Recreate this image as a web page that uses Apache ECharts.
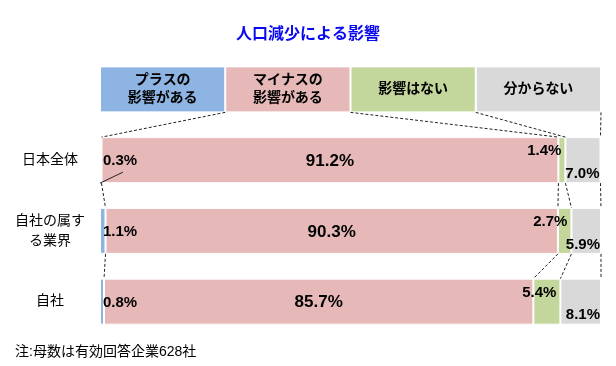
<!DOCTYPE html>
<html>
<head>
<meta charset="utf-8">
<script src="https://cdn.jsdelivr.net/npm/echarts@6/dist/echarts.min.js"></script>
<style>html,body{margin:0;padding:0;background:#fff}#c{width:616px;height:366px}</style>
</head>
<body>
<div id="c"></div>
<script>
const titleText = '人口減少による影響';
const footnote = '注:母数は有効回答企業628社';
const categoryLabels = ['日本全体', '自社の属す\nる業界', '自社'];
const headerLabels = ['プラスの\n影響がある', 'マイナスの\n影響がある', '影響はない', '分からない'];
const headerShares = [25, 25, 25, 25];
const plusVals = [0.3, 1.1, 0.8];
const minusVals = [91.2, 90.3, 85.7];
const noneVals = [1.4, 2.7, 5.4];
const unknownVals = [7.0, 5.9, 8.1];

const colors = ['#8EB4E3', '#E6B9B8', '#C3D69B', '#D9D9D9'];
const FONT = '"Liberation Sans","Noto Sans CJK JP",sans-serif';
const BAR_W = 46;

const seriesVals = [plusVals, minusVals, noneVals, unknownVals];
const rowLabelStyles = [
  { position: [3, '50%'], align: 'left', verticalAlign: 'middle', fontSize: 15, offset: [0, 1] },
  { position: 'inside', align: 'center', verticalAlign: 'middle', fontSize: 17, offset: [0, 1] },
  { position: ['100%', '50%'], align: 'right', verticalAlign: 'middle', fontSize: 15, offset: [-4, -9] },
  { position: ['100%', '50%'], align: 'right', verticalAlign: 'middle', fontSize: 15, offset: [-1, 13.5] }
];

// rows: header + 3 bar rows, each as array of 4 shares
const rows = [headerShares].concat(categoryLabels.map((_, i) => seriesVals.map(v => v[i])));
function cumul(arr) { const out = []; let s = 0; arr.forEach(v => { s += v; out.push(s); }); return out; }

const barSeries = seriesVals.map((vals, s) => ({
  type: 'bar',
  stack: 'total',
  barWidth: BAR_W,
  itemStyle: { color: colors[s], borderColor: '#fff', borderWidth: 1 },
  label: Object.assign({
    show: true, color: '#000', fontWeight: 'bold', fontFamily: FONT,
    formatter: p => p.dataIndex === 0 ? headerLabels[s] : p.value.toFixed(1) + '%'
  }, rowLabelStyles[s]),
  data: [{
    value: headerShares[s],
    label: { position: 'inside', align: 'center', verticalAlign: 'middle', offset: [0, 0], fontSize: 14, lineHeight: 18 }
  }].concat(vals.map(v => ({ value: v })))
}));

const linesSeries = {
  type: 'custom',
  silent: true,
  clip: false,
  z: 5,
  encode: { x: 0, y: 1 },
  data: [[0, 0], [0, 1], [0, 2]],
  renderItem: function (params, api) {
    const r = api.value(1);
    const half = BAR_W / 2;
    const topC = cumul(rows[r]);
    const botC = cumul(rows[r + 1]);
    const yTop = api.coord([0, r])[1] + half;
    const yBot = api.coord([0, r + 1])[1] - half;
    const children = topC.map((t, k) => ({
      type: 'line',
      shape: { x1: api.coord([t, r])[0], y1: yTop, x2: api.coord([botC[k], r + 1])[0], y2: yBot },
      style: { stroke: '#222', lineWidth: 1, lineDash: [3, 2] }
    }));
    if (r === 1) {
      const c = api.coord([0, 1]);
      children.push({
        type: 'line',
        shape: { x1: c[0], y1: c[1] + half, x2: c[0] + 23, y2: c[1] + 12 },
        style: { stroke: '#222', lineWidth: 1 }
      });
    }
    return { type: 'group', children: children };
  }
};

const chart = echarts.init(document.getElementById('c'), null, { renderer: 'canvas' });
chart.setOption({
  animation: false,
  title: {
    text: titleText, left: 'center', top: 22,
    textStyle: { color: '#0A0AF0', fontSize: 16, fontWeight: 'bold', fontFamily: FONT }
  },
  grid: { left: 100, right: 15, top: 54, height: 283 },
  xAxis: { type: 'value', min: 0, max: 100, show: false },
  yAxis: {
    type: 'category', inverse: true,
    data: [''].concat(categoryLabels),
    axisTick: { show: false }, axisLine: { show: false }, splitLine: { show: false },
    axisLabel: { margin: 50, align: 'center', fontSize: 14, lineHeight: 20, color: '#000', fontFamily: FONT }
  },
  graphic: [{
    type: 'text', left: 15, top: 345,
    style: { text: footnote, fontSize: 14, fill: '#000', fontFamily: FONT }
  }],
  series: barSeries.concat([linesSeries])
});
</script>
</body>
</html>
